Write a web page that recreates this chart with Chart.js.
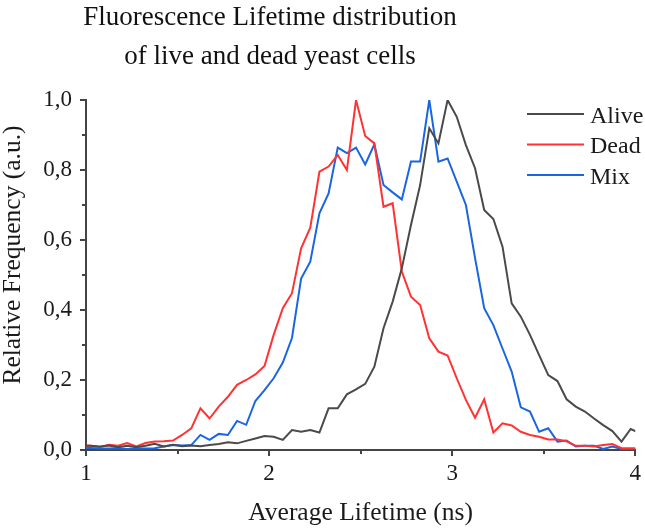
<!DOCTYPE html>
<html><head><meta charset="utf-8">
<script src="https://cdn.jsdelivr.net/npm/chart.js@4.4.1/dist/chart.umd.min.js"></script>
<style>html,body{margin:0;padding:0;background:#fff}#wrap{width:645px;height:528px;position:relative}</style>
</head><body><div id="wrap"><canvas id="c" width="645" height="528"></canvas></div>
<script>
const lifetime = [0.975,1.025,1.075,1.125,1.175,1.225,1.275,1.325,1.375,1.425,1.475,1.525,1.575,1.625,1.675,1.725,1.775,1.825,1.875,1.925,1.975,2.025,2.075,2.125,2.175,2.225,2.275,2.325,2.375,2.425,2.475,2.525,2.575,2.625,2.675,2.725,2.775,2.825,2.875,2.925,2.975,3.025,3.075,3.125,3.175,3.225,3.275,3.325,3.375,3.425,3.475,3.525,3.575,3.625,3.675,3.725,3.775,3.825,3.875,3.925,3.975,4.025];
const alive = [0.012,0.012,0.01,0.013,0.008,0.012,0.008,0.012,0.018,0.01,0.015,0.011,0.013,0.011,0.014,0.017,0.022,0.019,0.026,0.033,0.04,0.038,0.029,0.057,0.052,0.057,0.05,0.119,0.119,0.159,0.173,0.189,0.238,0.348,0.424,0.519,0.643,0.757,0.919,0.876,1.0,0.952,0.871,0.805,0.686,0.66,0.581,0.419,0.381,0.329,0.271,0.214,0.197,0.145,0.124,0.11,0.09,0.071,0.054,0.024,0.06,0.048];
const dead = [0.014,0.012,0.008,0.015,0.012,0.02,0.01,0.02,0.024,0.025,0.027,0.043,0.062,0.119,0.09,0.124,0.152,0.186,0.2,0.216,0.24,0.329,0.405,0.448,0.576,0.635,0.795,0.81,0.843,0.8,1.0,0.897,0.876,0.695,0.705,0.51,0.438,0.414,0.319,0.281,0.27,0.205,0.143,0.092,0.145,0.05,0.076,0.07,0.052,0.043,0.038,0.03,0.03,0.025,0.012,0.012,0.01,0.014,0.017,0.005,0.005,0.005];
const mix = [0.005,0.006,0.004,0.004,0.005,0.003,0.004,0.004,0.005,0.01,0.014,0.013,0.014,0.043,0.029,0.046,0.043,0.083,0.072,0.14,0.171,0.205,0.25,0.32,0.49,0.538,0.676,0.733,0.864,0.848,0.864,0.816,0.873,0.757,0.736,0.716,0.824,0.824,1.0,0.824,0.833,0.767,0.7,0.548,0.405,0.357,0.29,0.224,0.122,0.11,0.052,0.062,0.024,0.027,0.01,0.012,0.012,0.003,0.01,0.003,0.003,0.003];
const seriesNames = ['Alive','Dead','Mix'];
const seriesColors = ['#4a4a4a','#ff3333','#1a66e0'];
const xTickValues = [1,2,3,4];
const xTickLabels = ['1','2','3','4'];
const yTickValues = [0,0.2,0.4,0.6,0.8,1.0];
const yTickLabels = ['0,0','0,2','0,4','0,6','0,8','1,0'];
const xMinorTicks = [1.5,2.5,3.5];
const yMinorTicks = [0.1,0.3,0.5,0.7,0.9];
const titleLines = ['Fluorescence Lifetime distribution','of live and dead yeast cells'];
const xTitle = 'Average Lifetime (ns)';
const yTitle = 'Relative Frequency (a.u.)';

const FONT = "'Liberation Serif', 'Times New Roman', serif";
const AXIS = '#444';

const series = [alive, dead, mix];
const datasets = series.map((s, i) => ({
  label: seriesNames[i],
  data: lifetime.map((t, j) => ({x: t, y: s[j]})),
  borderColor: seriesColors[i],
  backgroundColor: seriesColors[i],
  borderWidth: 2,
  pointRadius: 0,
  tension: 0
}));

const extras = {
  id: 'extras',
  afterDraw(chart) {
    const ctx = chart.ctx;
    const xs = chart.scales.x, ys = chart.scales.y;
    ctx.save();
    ctx.strokeStyle = AXIS; ctx.lineWidth = 2;
    xMinorTicks.forEach(v => {
      const px = Math.round(xs.getPixelForValue(v));
      ctx.beginPath(); ctx.moveTo(px, xs.top); ctx.lineTo(px, xs.top + 4); ctx.stroke();
    });
    yMinorTicks.forEach(v => {
      const py = Math.round(ys.getPixelForValue(v));
      ctx.beginPath(); ctx.moveTo(ys.right, py); ctx.lineTo(ys.right - 4, py); ctx.stroke();
    });
    // chart title
    ctx.fillStyle = '#111';
    ctx.font = '27px ' + FONT;
    ctx.textAlign = 'center'; ctx.textBaseline = 'alphabetic';
    ctx.fillText(titleLines[0], 270, 25);
    ctx.fillText(titleLines[1], 270, 64);
    // y axis title
    ctx.save();
    ctx.translate(20, 255);
    ctx.rotate(-Math.PI / 2);
    ctx.font = '25.5px ' + FONT;
    ctx.fillStyle = '#1a1a1a';
    ctx.textAlign = 'center'; ctx.textBaseline = 'alphabetic';
    ctx.fillText(yTitle, 0, 0);
    ctx.restore();
    // legend
    ctx.font = '24px ' + FONT;
    ctx.textAlign = 'left'; ctx.textBaseline = 'alphabetic';
    chart.data.datasets.forEach((d, i) => {
      const y = 114 + 30.5 * i;
      ctx.strokeStyle = d.borderColor; ctx.lineWidth = 2;
      ctx.beginPath(); ctx.moveTo(527, y); ctx.lineTo(584, y); ctx.stroke();
      ctx.fillStyle = '#1a1a1a';
      ctx.fillText(d.label, 590, y + 8.5);
    });
    ctx.restore();
  }
};

new Chart(document.getElementById('c'), {
  type: 'line',
  data: { datasets },
  options: {
    responsive: false,
    animation: false,
    devicePixelRatio: 1,
    layout: { padding: { top: 100, right: 7, left: 0, bottom: 0 } },
    plugins: { legend: { display: false }, title: { display: false }, tooltip: { enabled: false } },
    scales: {
      x: {
        type: 'linear', min: 1, max: 4,
        afterBuildTicks: s => { s.ticks = xTickValues.map(v => ({value: v})); },
        afterFit: s => { s.height = 78; },
        border: { display: true, color: AXIS, width: 2 },
        grid: { display: true, drawOnChartArea: false, drawTicks: true, tickLength: 6, color: AXIS, lineWidth: 2 },
        ticks: { color: '#1a1a1a', font: { family: FONT, size: 23 }, padding: 4, maxRotation: 0,
          callback: (v) => xTickLabels[xTickValues.indexOf(v)] },
        title: { display: true, text: xTitle, color: '#1a1a1a', font: { family: FONT, size: 25.5, lineHeight: '30px' }, padding: { top: 0, bottom: 0 } }
      },
      y: {
        min: 0, max: 1,
        afterBuildTicks: s => { s.ticks = yTickValues.map(v => ({value: v})); },
        afterFit: s => { s.width = 86; },
        border: { display: true, color: AXIS, width: 2 },
        grid: { display: true, drawOnChartArea: false, drawTicks: true, tickLength: 6, color: AXIS, lineWidth: 2 },
        ticks: { color: '#1a1a1a', font: { family: FONT, size: 23 }, padding: 8,
          callback: (v) => yTickLabels[yTickValues.findIndex(t => Math.abs(t - v) < 1e-9)] },
        title: { display: false }
      }
    }
  },
  plugins: [extras]
});
</script></body></html>
